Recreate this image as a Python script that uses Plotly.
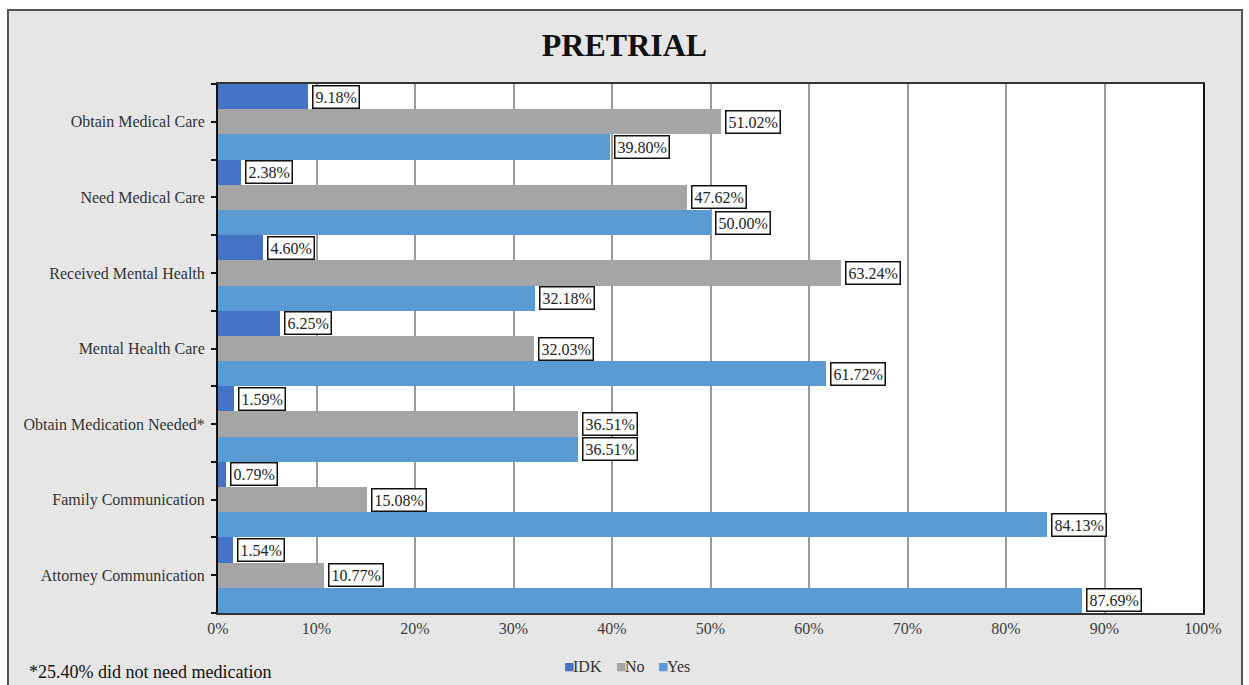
import plotly.graph_objects as go

# Survey results, percent of respondents
categories = [
    "Obtain Medical Care",
    "Need Medical Care",
    "Received Mental Health",
    "Mental Health Care",
    "Obtain Medication Needed*",
    "Family Communication",
    "Attorney Communication",
]
idk = [9.18, 2.38, 4.60, 6.25, 1.59, 0.79, 1.54]
no = [51.02, 47.62, 63.24, 32.03, 36.51, 15.08, 10.77]
yes = [39.80, 50.00, 32.18, 61.72, 36.51, 84.13, 87.69]

series = [("IDK", idk, "#4472C4"), ("No", no, "#A5A5A5"), ("Yes", yes, "#5B9BD5")]
x_ticks = list(range(0, 101, 10))

W, H = 1249, 685
ML, MR, MT, MB = 218, 46, 84, 72
pw, ph = W - ML - MR, H - MT - MB

def px_x(px):
    return (px - ML) / pw

def px_y(py):
    return (H - MB - py) / ph

SERIF = "Liberation Serif, Times New Roman, serif"
n = len(categories)
ns = len(series)

fig = go.Figure()
annotations = []
for k, (name, vals, color) in enumerate(series):
    ypos = [i * ns + k for i in range(n)]
    fig.add_trace(go.Bar(
        name=name, x=vals, y=ypos, orientation="h", width=1.0,
        marker=dict(color=color, line=dict(width=0)),
        showlegend=False,
    ))
    for v, yp in zip(vals, ypos):
        annotations.append(dict(
            x=v, y=yp, xref="x", yref="y", text=f"{v:.2f}%",
            showarrow=False, xanchor="left", yanchor="middle", xshift=4,
            font=dict(family=SERIF, size=16, color="#222222"),
            bgcolor="white", bordercolor="#111111", borderwidth=1.5, borderpad=2,
        ))

# compact legend row under the axis
for (nm, _, c), sx in zip(series, [562, 614, 656]):
    annotations.append(dict(
        x=px_x(sx), y=px_y(666), xref="paper", yref="paper",
        text="■", showarrow=False, xanchor="left", yanchor="middle",
        font=dict(family="DejaVu Sans", size=11, color=c),
    ))
    annotations.append(dict(
        x=px_x(sx + 9), y=px_y(666), xref="paper", yref="paper",
        text=nm, showarrow=False, xanchor="left", yanchor="middle",
        font=dict(family=SERIF, size=16, color="#333333"),
    ))

annotations.append(dict(
    x=px_x(27), y=px_y(672), xref="paper", yref="paper",
    text="*25.40% did not need medication", showarrow=False,
    xanchor="left", yanchor="middle",
    font=dict(family=SERIF, size=18, color="#111111"),
))

shapes = [
    # outer gray frame
    dict(type="rect", xref="paper", yref="paper", layer="below",
         x0=px_x(8), x1=px_x(1242), y0=px_y(700), y1=px_y(10),
         fillcolor="#E6E6E6", line=dict(color="#555555", width=2)),
    # white plotting area
    dict(type="rect", xref="paper", yref="paper", layer="below",
         x0=0, x1=1, y0=0, y1=1, fillcolor="white", line=dict(width=0)),
]

fig.update_layout(
    width=W, height=H,
    margin=dict(l=ML, r=MR, t=MT, b=MB),
    paper_bgcolor="white", plot_bgcolor="rgba(0,0,0,0)",
    barmode="overlay", bargap=0,
    title=dict(text="<b>PRETRIAL</b>", x=0.5, xref="container", xanchor="center",
               y=1 - 45 / H, yref="container", yanchor="middle",
               font=dict(family=SERIF, size=32, color="#111111")),
    xaxis=dict(range=[0, 100], tickvals=x_ticks,
               ticktext=[f"{t}%" for t in x_ticks],
               showgrid=True, gridcolor="#9A9A9A", gridwidth=1.5,
               zeroline=False, showline=True, linecolor="#333333", linewidth=1.5,
               mirror=True, ticks="",
               tickfont=dict(family=SERIF, size=16, color="#404040")),
    yaxis=dict(range=[n * ns - 0.5, -0.5],
               tickvals=[i * ns + (ns - 1) / 2 for i in range(n)],
               ticktext=categories,
               ticks="outside", ticklen=5, tickcolor="#111111", tickwidth=1.5,
               ticklabelstandoff=3,
               minor=dict(tickvals=[i * ns - 0.5 for i in range(n + 1)],
                          ticks="outside", ticklen=5, tickcolor="#111111",
                          tickwidth=1.5, showgrid=False),
               showgrid=False, zeroline=False,
               showline=True, linecolor="#111111", linewidth=2, mirror=True,
               tickfont=dict(family=SERIF, size=16, color="#333333")),
    showlegend=False,
    annotations=annotations,
    shapes=shapes,
)

fig.write_html("out.html")
